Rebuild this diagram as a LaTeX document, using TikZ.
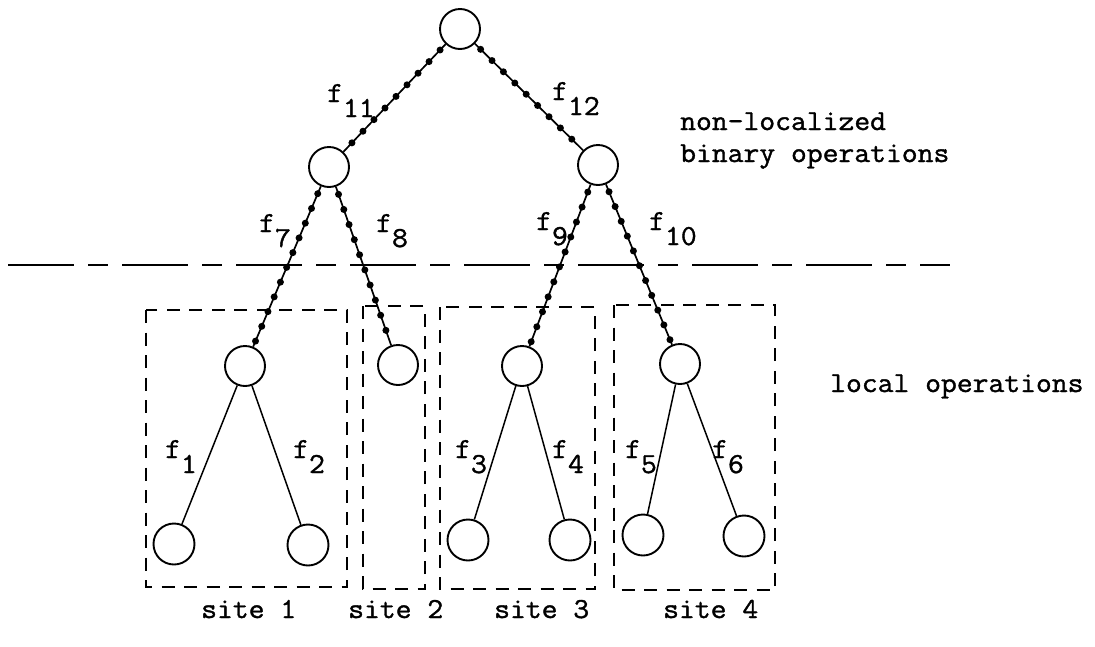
\documentclass[tikz,border=0pt]{standalone}
\usepackage{fontspec}
\newfontfamily\tw{Latin Modern Mono}[FakeStretch=1.06,FakeBold=1.3]
\begin{document}
\begin{tikzpicture}[x=1pt,y=-1pt,
  op/.style={circle,draw,line width=1.9pt,minimum size=40pt,inner sep=0pt},
  leaf/.style={op,minimum size=41pt},
  arc/.style={line width=1.5pt},
  dotarc/.style={line width=1.7pt,
    postaction={draw,line width=7pt,line cap=round,
      dash pattern=on 0pt off 16pt,dash phase=8pt}},
  site/.style={line width=2pt,dash pattern=on 13pt off 9.5pt},
  divider/.style={line width=2.3pt,dash pattern=on 66pt off 14pt on 20pt off 14pt},
  lbl/.style={font=\tw\fontsize{29}{34}\selectfont,inner sep=0pt,anchor=base west},
]
\newcommand\fsub[1]{f\lower15pt\hbox{#1}}
\useasboundingbox (0,0) rectangle (1095,646);

% operation tree
\node[op] (root) at (460,29) {};
\node[op] (L) at (329,167) {};
\node[op] (R) at (598,165) {};
\node[op] (A) at (245,366) {};
\node[op] (B) at (398,365) {};
\node[op] (C) at (522,366) {};
\node[op] (D) at (680,364) {};
\node[leaf] (l1) at (174,544) {};
\node[leaf] (l2) at (308,545) {};
\node[leaf] (l3) at (468,540) {};
\node[leaf] (l4) at (570,540) {};
\node[leaf] (l5) at (643,535) {};
\node[leaf] (l6) at (744,536) {};

% non-localized (binary) operations
\draw[dotarc] (root) -- (L);
\draw[dotarc] (root) -- (R);
\draw[dotarc] (L) -- (A);
\draw[dotarc] (L) -- (B);
\draw[dotarc] (R) -- (C);
\draw[dotarc] (R) -- (D);

% local operations
\draw[arc] (A) -- (l1);
\draw[arc] (A) -- (l2);
\draw[arc] (C) -- (l3);
\draw[arc] (C) -- (l4);
\draw[arc] (D) -- (l5);
\draw[arc] (D) -- (l6);

% edge labels
\node[lbl] (f11) at (327,102) {\fsub{11}};
\node[lbl] (f12) at (552,100) {\fsub{12}};
\node[lbl] (f7) at (259,232) {\fsub{7}};
\node[lbl] (f8) at (376,232) {\fsub{8}};
\node[lbl] (f9) at (536,230) {\fsub{9}};
\node[lbl] (f10) at (649,230) {\fsub{10}};
\node[lbl] (f1) at (165,458) {\fsub{1}};
\node[lbl] (f2) at (293,458) {\fsub{2}};
\node[lbl] (f3) at (455,458) {\fsub{3}};
\node[lbl] (f4) at (552,458) {\fsub{4}};
\node[lbl] (f5) at (625,458) {\fsub{5}};
\node[lbl] (f6) at (712,458) {\fsub{6}};

% divider between the two kinds of operations
\coordinate (dl) at (8,265);
\coordinate (dr) at (950,265);
\draw[divider] (dl) -- (dr);

% sites
\draw[site] (146,310) rectangle (347,587);
\draw[site] (363,306) rectangle (425,589);
\draw[site] (440,307) rectangle (595,589);
\draw[site] (614,305) rectangle (775,590);

% annotations
\node[lbl] (nl1) at (680,130) {non-localized};
\node[lbl] (nl2) at (680,162) {binary operations};
\node[lbl] (loc) at (830,392) {local operations};
\node[lbl] (s1) at (201,618) {site 1};
\node[lbl] (s2) at (348,618) {site 2};
\node[lbl] (s3) at (494,618) {site 3};
\node[lbl] (s4) at (663,618) {site 4};
\end{tikzpicture}
\end{document}
